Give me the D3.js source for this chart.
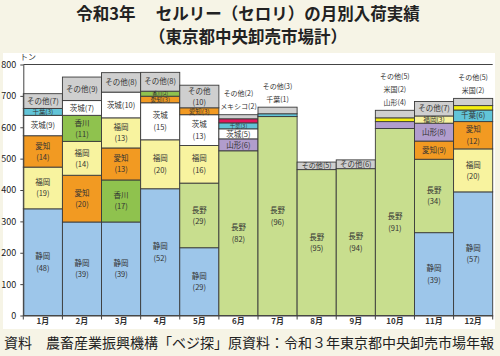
<!DOCTYPE html>
<html><head><meta charset="utf-8">
<script src="https://cdn.jsdelivr.net/npm/d3@7"></script>
<style>body{margin:0;background:#f6f4e6;}svg{display:block;}</style>
</head><body>
<script>
const months = ["1月","2月","3月","4月","5月","6月","7月","8月","9月","10月","11月","12月"];
// stacking order bottom -> top for each month
const origins = [
  ["静岡","福岡","愛知","茨城","千葉","その他"],
  ["静岡","愛知","福岡","香川","茨城","その他"],
  ["静岡","香川","愛知","福岡","茨城","その他"],
  ["静岡","福岡","茨城","愛知","香川","その他"],
  ["静岡","長野","福岡","茨城","愛知","その他"],
  ["長野","山形","茨城","千葉","メキシコ","その他"],
  ["長野","千葉","その他"],
  ["長野","その他"],
  ["長野","その他"],
  ["長野","山形","米国","その他"],
  ["静岡","長野","愛知","山形","福岡","その他"],
  ["静岡","福岡","愛知","千葉","米国","その他"]
];
// tons (estimated)
const tons = [
  [340,133,100,65,22,47],
  [298,149,108,83,47,75],
  [298,134,102,96,82,62],
  [404,156,118,21,16,60],
  [216,206,120,98,22,72],
  [525,38,32,19,13,13],
  [634,9,21],
  [465,24],
  [468,28],
  [596,22,12,24],
  [264,234,58,57,23,46],
  [394,137,87,37,14,23]
];
// labels inside segments (share %), "\n" = two lines
const labels = [
  ["静岡\n(48)","福岡\n(19)","愛知\n(14)","茨城(9)","千葉(3)","その他(7)"],
  ["静岡\n(39)","愛知\n(20)","福岡\n(14)","香川\n(11)","茨城(7)","その他(9)"],
  ["静岡\n(39)","香川\n(17)","愛知\n(13)","福岡\n(13)","茨城(10)","その他(8)"],
  ["静岡\n(52)","福岡\n(20)","茨城\n(15)","愛知(3)","香川(2)","その他(8)"],
  ["静岡\n(29)","長野\n(29)","福岡\n(16)","茨城\n(13)","愛知(3)","その他\n(10)"],
  ["長野\n(82)","山形(6)","茨城(5)","千葉(3)","",""],
  ["長野\n(96)","",""],
  ["長野\n(95)","その他(5)"],
  ["長野\n(94)","その他(6)"],
  ["長野\n(91)","","",""],
  ["静岡\n(39)","長野\n(34)","愛知(9)","山形(8)","福岡(3)","その他(7)"],
  ["静岡\n(57)","福岡\n(20)","愛知\n(12)","千葉(6)","",""]
];
// labels written above the bar (top -> bottom)
const aboveLabels = [[],[],[],[],[],["その他(2)","メキシコ(2)"],["その他(3)","千葉(1)"],[],[],["その他(5)","米国(2)","山形(4)"],[],["その他(5)","米国(2)"]];
const yTicks = [0,100,200,300,400,500,600,700,800];
const colors = {"静岡":"#9dc6ea","長野":"#c8de8e","香川":"#8fc24e","愛知":"#f29a22","福岡":"#f8f39f","山形":"#b19dcd","茨城":"#ffffff","千葉":"#62c4d8","メキシコ":"#e2175c","米国":"#f4ee10","その他":"#cfcfcf"};

const W=500,H=356;
const svg=d3.select("body").append("svg").attr("width",W).attr("height",H);
const F='"Noto Sans CJK JP","Noto Sans",sans-serif';
svg.append("rect").attr("width",W).attr("height",H).attr("fill","#f6f4e6");
svg.append("rect").attr("x",3).attr("y",53).attr("width",492).attr("height",276).attr("fill","#ffffff");

svg.append("text").attr("x",248).attr("y",19.5).attr("text-anchor","middle").attr("font-family",F).attr("font-size",16.5).attr("font-weight","bold").attr("fill","#222").text("令和3年　 セルリー（セロリ）の月別入荷実績");
svg.append("text").attr("x",248).attr("y",42.5).attr("text-anchor","middle").attr("font-family",F).attr("font-size",16.5).attr("font-weight","bold").attr("fill","#222").text("（東京都中央卸売市場計）");
svg.append("text").attr("x",4).attr("y",348).attr("font-family",F).attr("font-size",14).attr("fill","#222").text("資料　農畜産業振興機構「ベジ探」原資料：令和３年東京都中央卸売市場年報");

const x=d3.scaleBand().domain(months).range([23.3,492.7]).padding(0);
const y=d3.scaleLinear().domain([0,800]).range([315.5,64.5]);

// frame top line
svg.append("line").attr("x1",23.3).attr("x2",492.7).attr("y1",y(800)).attr("y2",y(800)).attr("stroke","#444").attr("stroke-width",1);

const g=svg.append("g");
months.forEach((m,i)=>{
  let cum=0;
  const segs=origins[i].map((o,j)=>{const s={o,v:tons[i][j],y0:cum,y1:cum+tons[i][j],lab:labels[i][j]};cum+=tons[i][j];return s;});
  const bg=g.append("g");
  bg.selectAll("rect").data(segs).join("rect")
    .attr("x",x(m)).attr("width",x.bandwidth())
    .attr("y",d=>y(d.y1)).attr("height",d=>y(d.y0)-y(d.y1))
    .attr("fill",d=>colors[d.o]).attr("stroke","#3a3a3a").attr("stroke-width",0.9);
  segs.forEach(d=>{
    if(!d.lab) return;
    const h=y(d.y0)-y(d.y1);
    const cy=(y(d.y0)+y(d.y1))/2, cx=x(m)+x.bandwidth()/2;
    const lines=d.lab.split("\n");
    const fs=Math.min(7.5,Math.max(5,h-0.5));
    const t=bg.append("text").attr("text-anchor","middle").attr("font-family",F).attr("font-size",fs).attr("fill","#333");
    if(lines.length===1){
      t.attr("x",cx).attr("y",cy+fs*0.36).text(lines[0]);
    } else {
      t.append("tspan").attr("x",cx).attr("y",cy-2.8).text(lines[0]);
      t.append("tspan").attr("x",cx).attr("y",cy+8.5).text(lines[1]);
    }
  });
  const top=y(cum), cx=x(m)+x.bandwidth()/2;
  const n=aboveLabels[i].length;
  aboveLabels[i].forEach((s,k)=>{
    const cy=top-8-(n-1-k)*13;
    svg.append("text").attr("x",cx).attr("y",cy+2.7).attr("text-anchor","middle").attr("font-family",F).attr("font-size",7).attr("fill","#333").text(s);
  });
});

// y axis
const ya=svg.append("g").attr("transform","translate(23.3,0)").call(d3.axisLeft(y).tickValues(yTicks).tickSize(3).tickSizeOuter(0));
ya.select(".domain").attr("stroke","#444");
ya.selectAll(".tick line").attr("stroke","#444");
ya.selectAll("text").attr("font-family",F).attr("font-size",9).attr("fill","#222").attr("x",-7);
svg.append("text").attr("x",20).attr("y",60).attr("font-family",F).attr("font-size",8).attr("fill","#333").text("トン");

// x axis
const xa=svg.append("g").attr("transform",`translate(0,${y(0)})`).call(d3.axisBottom(x).tickSize(0).tickSizeOuter(0));
xa.select(".domain").attr("stroke","#444");
xa.selectAll("text").attr("font-family",F).attr("font-size",8).attr("font-weight","bold").attr("fill","#333").attr("dy","0.55em").attr("y",4);
const bounds=months.map(m=>x(m)).concat([x.range()[1]]);
svg.append("g").selectAll("line").data(bounds).join("line")
  .attr("x1",d=>d).attr("x2",d=>d).attr("y1",y(0)).attr("y2",y(0)+4).attr("stroke","#444");
</script>
</body></html>
